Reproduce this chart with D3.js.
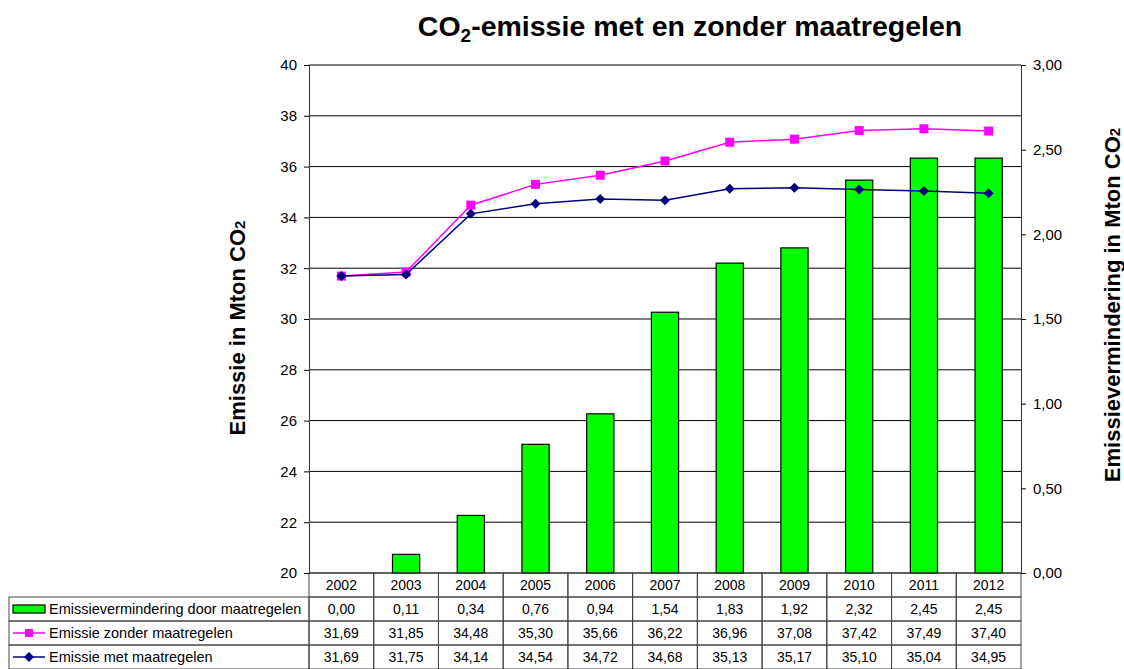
<!DOCTYPE html>
<html>
<head>
<meta charset="utf-8">
<script src="https://cdn.jsdelivr.net/npm/d3@7/dist/d3.min.js"></script>
<style>
  body { margin: 0; background: #fff; }
  svg { font-family: Arial, "Liberation Sans", sans-serif; }
</style>
</head>
<body>
<svg id="chart" width="1124" height="669"></svg>
<script>
var years = ['2002', '2003', '2004', '2005', '2006', '2007', '2008', '2009', '2010', '2011', '2012'];
var reduction = [0.00, 0.11, 0.34, 0.76, 0.94, 1.54, 1.83, 1.92, 2.32, 2.45, 2.45];
var withoutMeasures = [31.69, 31.85, 34.48, 35.30, 35.66, 36.22, 36.96, 37.08, 37.42, 37.49, 37.40];
var withMeasures = [31.69, 31.75, 34.14, 34.54, 34.72, 34.68, 35.13, 35.17, 35.10, 35.04, 34.95];
var leftTicks = [20, 22, 24, 26, 28, 30, 32, 34, 36, 38, 40];
var rightTicks = [0, 0.5, 1, 1.5, 2, 2.5, 3];

var seriesNames = ['Emissievermindering door maatregelen', 'Emissie zonder maatregelen', 'Emissie met maatregelen'];

var svg = d3.select('#chart');
var margin = {top: 65, left: 309, right: 103, bottom: 96};
var width = 1124 - margin.left - margin.right;
var height = 669 - margin.top - margin.bottom;

var g = svg.append('g').attr('transform', 'translate(' + margin.left + ',' + margin.top + ')');

var x = d3.scaleBand().domain(years).range([0, width]);
var yL = d3.scaleLinear().domain([20, 40]).range([height, 0]);
var yR = d3.scaleLinear().domain([0, 3]).range([height, 0]);
var comma = function(d) { return d3.format('.2f')(d).replace('.', ','); };

// Grid
g.selectAll('line.grid')
  .data(leftTicks)
  .enter().append('line')
  .attr('class', 'grid')
  .attr('x1', 0).attr('x2', width)
  .attr('y1', function(d) { return yL(d); })
  .attr('y2', function(d) { return yL(d); })
  .attr('stroke', '#000')
  .attr('stroke-width', 1);

// Left axis
var axL = g.append('g')
  .call(d3.axisLeft(yL).tickValues(leftTicks).tickSize(5).tickPadding(7));
axL.select('.domain').attr('stroke', '#333');
axL.selectAll('text').attr('font-size', 15).attr('fill', '#000');

// Right axis
var axR = g.append('g')
  .attr('transform', 'translate(' + width + ',0)')
  .call(d3.axisRight(yR).tickValues(rightTicks).tickSize(5).tickPadding(7).tickFormat(comma));
axR.select('.domain').attr('stroke', '#333');
axR.selectAll('text').attr('font-size', 15).attr('fill', '#000');

// Bars
var barW = x.bandwidth() * 0.42;
g.selectAll('rect.bar')
  .data(reduction)
  .enter().append('rect')
  .attr('class', 'bar')
  .attr('x', function(d, i) { return x(years[i]) + (x.bandwidth() - barW) / 2; })
  .attr('y', function(d) { return yR(d); })
  .attr('width', barW)
  .attr('height', function(d) { return height - yR(d); })
  .attr('fill', '#00ff00')
  .attr('stroke', '#000')
  .attr('stroke-width', 1.2);

var cx = function(d, i) { return x(years[i]) + x.bandwidth() / 2; };

// Line: zonder maatregelen
var lineL = d3.line().x(cx).y(function(d) { return yL(d); });
g.append('path')
  .datum(withoutMeasures)
  .attr('fill', 'none')
  .attr('stroke', '#ff00ff')
  .attr('stroke-width', 1.5)
  .attr('d', lineL);
g.selectAll('rect.sq')
  .data(withoutMeasures)
  .enter().append('rect')
  .attr('class', 'sq')
  .attr('x', function(d, i) { return cx(d, i) - 4.5; })
  .attr('y', function(d) { return yL(d) - 4.5; })
  .attr('width', 9).attr('height', 9)
  .attr('fill', '#ff00ff');

// Line: met maatregelen
g.append('path')
  .datum(withMeasures)
  .attr('fill', 'none')
  .attr('stroke', '#000080')
  .attr('stroke-width', 1.5)
  .attr('d', lineL);
g.selectAll('path.dia')
  .data(withMeasures)
  .enter().append('path')
  .attr('class', 'dia')
  .attr('d', function(d, i) {
    var px = cx(d, i), py = yL(d), r = 5;
    return 'M' + px + ',' + (py - r) + 'L' + (px + r) + ',' + py + 'L' + px + ',' + (py + r) + 'L' + (px - r) + ',' + py + 'Z';
  })
  .attr('fill', '#000080');

// Title
var title = svg.append('text')
  .attr('x', 690).attr('y', 36)
  .attr('text-anchor', 'middle')
  .attr('font-size', 28.5).attr('font-weight', 'bold');
title.append('tspan').text('CO');
title.append('tspan').attr('font-size', 19).attr('dy', 6).text('2');
title.append('tspan').attr('dy', -6).text('-emissie met en zonder maatregelen');

// Axis titles
var tl = svg.append('text')
  .attr('transform', 'translate(245,' + 328 + ') rotate(-90)')
  .attr('text-anchor', 'middle')
  .attr('font-size', 22).attr('font-weight', 'bold');
tl.append('tspan').text('Emissie in Mton CO');
tl.append('tspan').attr('font-size', 15).text('2');

var tr = svg.append('text')
  .attr('transform', 'translate(1120,' + 305 + ') rotate(-90)')
  .attr('text-anchor', 'middle')
  .attr('font-size', 22).attr('font-weight', 'bold');
tr.append('tspan').text('Emissievermindering in Mton CO');
tr.append('tspan').attr('font-size', 15).text('2');

// Data table
var tableTop = margin.top + height;
var rowH = 24;
var tableLeft = 9;
var t = svg.append('g');
var rows = [reduction, withoutMeasures, withMeasures];
var lineColor = '#444';

// header row cells
years.forEach(function(yr) {
  t.append('rect')
    .attr('x', margin.left + x(yr)).attr('y', tableTop)
    .attr('width', x.bandwidth()).attr('height', rowH)
    .attr('fill', 'none').attr('stroke', lineColor);
  t.append('text')
    .attr('x', margin.left + x(yr) + x.bandwidth() / 2)
    .attr('y', tableTop + rowH / 2 + 5)
    .attr('text-anchor', 'middle').attr('font-size', 14)
    .text(yr);
});

rows.forEach(function(vals, r) {
  var ry = tableTop + rowH * (r + 1);
  t.append('rect')
    .attr('x', tableLeft).attr('y', ry)
    .attr('width', margin.left - tableLeft).attr('height', rowH)
    .attr('fill', 'none').attr('stroke', lineColor);
  t.append('text')
    .attr('x', 49).attr('y', ry + rowH / 2 + 5)
    .attr('font-size', 14.5)
    .text(seriesNames[r]);
  var my = ry + rowH / 2;
  if (r === 0) {
    t.append('rect').attr('x', 13).attr('y', my - 4).attr('width', 32).attr('height', 8)
      .attr('fill', '#00ff00').attr('stroke', '#000').attr('stroke-width', 1.2);
  } else if (r === 1) {
    t.append('line').attr('x1', 13).attr('x2', 45).attr('y1', my).attr('y2', my)
      .attr('stroke', '#ff00ff').attr('stroke-width', 1.5);
    t.append('rect').attr('x', 25).attr('y', my - 4).attr('width', 8).attr('height', 8).attr('fill', '#ff00ff');
  } else {
    t.append('line').attr('x1', 13).attr('x2', 45).attr('y1', my).attr('y2', my)
      .attr('stroke', '#000080').attr('stroke-width', 1.5);
    t.append('path').attr('d', 'M29,' + (my - 5) + 'L34,' + my + 'L29,' + (my + 5) + 'L24,' + my + 'Z').attr('fill', '#000080');
  }
  vals.forEach(function(v, i) {
    t.append('rect')
      .attr('x', margin.left + x(years[i])).attr('y', ry)
      .attr('width', x.bandwidth()).attr('height', rowH)
      .attr('fill', 'none').attr('stroke', lineColor);
    t.append('text')
      .attr('x', margin.left + x(years[i]) + x.bandwidth() / 2)
      .attr('y', ry + rowH / 2 + 5)
      .attr('text-anchor', 'middle').attr('font-size', 14)
      .text(comma(v));
  });
});
</script>
</body>
</html>
